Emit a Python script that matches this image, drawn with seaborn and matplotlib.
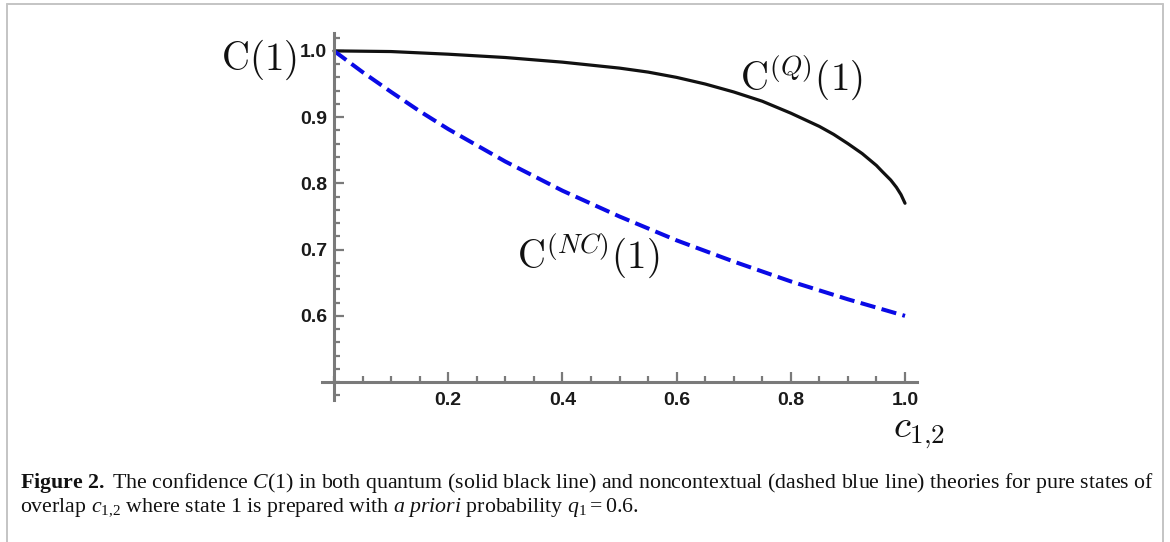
import matplotlib
matplotlib.use("Agg")
import matplotlib.pyplot as plt
from matplotlib.lines import Line2D
from matplotlib.ticker import MultipleLocator
import pandas as pd
import seaborn as sns

# %% data (q1 = 0.6)
c_q = [0.0, 0.1, 0.2, 0.3, 0.4, 0.5, 0.55, 0.6, 0.65, 0.7, 0.725, 0.75, 0.775, 0.8, 0.825,
       0.85, 0.875, 0.9, 0.925, 0.95, 0.96, 0.975, 0.985, 0.993, 1.0]
conf_q = [1.000, 0.999, 0.995, 0.990, 0.983, 0.974, 0.968, 0.960, 0.950, 0.938, 0.931, 0.924,
          0.915, 0.906, 0.896, 0.886, 0.874, 0.860, 0.845, 0.827, 0.818, 0.805, 0.794, 0.783, 0.770]

c_nc = [0.0, 0.05, 0.1, 0.15, 0.2, 0.3, 0.4, 0.5, 0.6, 0.7, 0.8, 0.9, 1.0]
conf_nc = [1.000, 0.968, 0.938, 0.909, 0.882, 0.833, 0.789, 0.750, 0.714, 0.682, 0.652, 0.625, 0.600]

x_ticks = [0.2, 0.4, 0.6, 0.8, 1.0]
y_ticks = [0.6, 0.7, 0.8, 0.9, 1.0]

df_q = pd.DataFrame({"c12": c_q, "conf": conf_q})
df_nc = pd.DataFrame({"c12": c_nc, "conf": conf_nc})

# %% style
sns.set_style("white")
plt.rcParams["mathtext.fontset"] = "custom"
plt.rcParams["mathtext.rm"] = "Liberation Serif"
plt.rcParams["mathtext.it"] = "Liberation Serif:italic"
plt.rcParams["mathtext.bf"] = "Liberation Serif:bold"

W, H = 1170, 542
fig = plt.figure(figsize=(W / 100, H / 100), dpi=100)
ax = fig.add_axes([322 / W, 142 / H, 595 / W, 367 / H])

sns.lineplot(data=df_q, x="c12", y="conf", color="#111111", lw=2.3, ax=ax)
sns.lineplot(data=df_nc, x="c12", y="conf", color="#0a0ae6", lw=2.9,
             linestyle=(0, (3.8, 1.6)), ax=ax)

ax.set_xlim(-0.021, 1.021)
ax.set_ylim(0.473, 1.027)
ax.set_xlabel("")
ax.set_ylabel("")

axis_grey = "#7a7a7a"
for side in ["top", "right"]:
    ax.spines[side].set_visible(False)
ax.spines["left"].set_position(("data", 0))
ax.spines["bottom"].set_position(("data", 0.5))
for side in ["left", "bottom"]:
    ax.spines[side].set_color(axis_grey)
    ax.spines[side].set_linewidth(2.2)

tick_font = dict(fontweight="bold", fontfamily="Liberation Sans", fontsize=14, color="#1a1a1a")
ax.set_xticks(x_ticks, labels=["%.1f" % v for v in x_ticks], **tick_font)
ax.set_yticks(y_ticks, labels=["%.1f" % v for v in y_ticks], **tick_font)
ax.xaxis.set_minor_locator(MultipleLocator(0.05))
ax.yaxis.set_minor_locator(MultipleLocator(0.02))
ax.tick_params(which="both", direction="in", color=axis_grey, width=1.6,
               bottom=True, left=True, top=False, right=False)
ax.tick_params(which="major", length=7)
ax.tick_params(which="minor", length=4)
ax.tick_params(axis="x", which="major", pad=7)
ax.tick_params(axis="y", which="major", pad=5)

# %% curve / axis labels
big = dict(fontsize=28, math_fontfamily="cm", color="#111111", clip_on=False)
ax.text(-0.065, 0.986, r"$\mathrm{C}(1)$", ha="right", va="center", **big)
ax.text(0.711, 0.941, r"$\mathrm{C}^{(Q)}(1)$", ha="left", va="baseline", **big)
ax.text(0.320, 0.672, r"$\mathrm{C}^{(NC)}(1)$", ha="left", va="baseline", **big)
ax.text(0.979, 0.417, r"$c_{1{,}2}$", ha="left", va="baseline", **big)

# %% caption
cap = dict(fontsize=15.75, fontfamily="Liberation Serif", color="#111111", ha="left", va="baseline")
fig.text(20 / W, 1 - 488 / H,
         r"$\mathbf{Figure\ 2.}\ $The confidence $C(1)$ in both quantum (solid black line) and "
         r"noncontextual (dashed blue line) theories for pure states of", **cap)
fig.text(20 / W, 1 - 512 / H,
         r"overlap $c_{1{,}2}$ where state 1 is prepared with $\mathit{a\ priori}$ probability $q_1 = 0.6$.",
         **cap)

# frame around the figure panel
frame = "#c4c4c4"
fig.add_artist(Line2D([7 / W, 1163 / W], [1 - 4 / H, 1 - 4 / H], transform=fig.transFigure, color=frame, lw=1.4))
fig.add_artist(Line2D([7 / W, 7 / W], [0, 1 - 4 / H], transform=fig.transFigure, color=frame, lw=1.4))
fig.add_artist(Line2D([1163 / W, 1163 / W], [0, 1 - 4 / H], transform=fig.transFigure, color=frame, lw=1.4))

fig.savefig("out.png", dpi=100)
